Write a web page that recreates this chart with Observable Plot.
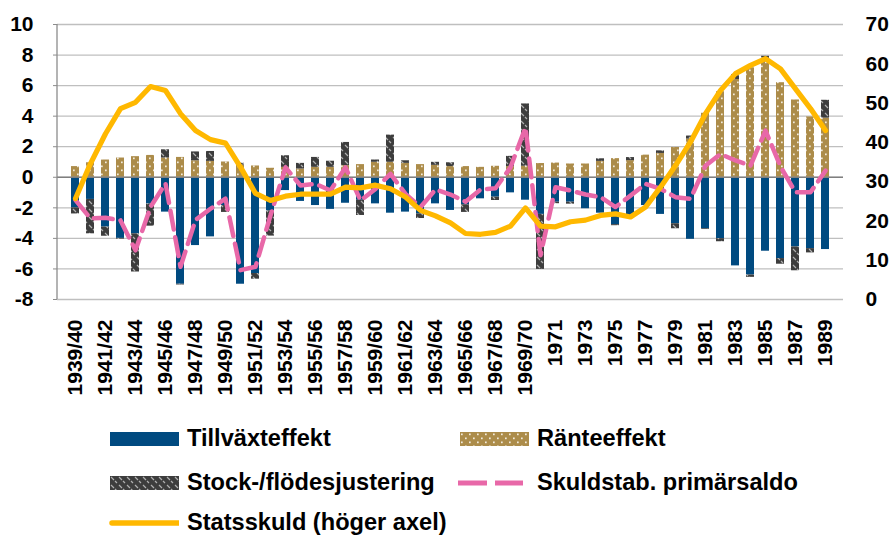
<!DOCTYPE html>
<html><head><meta charset="utf-8">
<script src="https://cdn.jsdelivr.net/npm/d3@7"></script>
<script src="https://cdn.jsdelivr.net/npm/@observablehq/plot@0.6"></script>
<style>
body{margin:0;background:#fff;}
#wrap{position:relative;width:893px;height:536px;overflow:hidden;font-family:"Liberation Sans",Arial,sans-serif;font-weight:bold;color:#000;}
.leg{position:absolute;display:flex;align-items:center;height:30px;font-size:23.6px;line-height:1;white-space:nowrap;}
.leg svg{margin-right:8px;flex:none;}
</style></head><body>
<svg width="0" height="0" style="position:absolute">
<defs>
<pattern id="dots" width="8" height="8" patternUnits="userSpaceOnUse">
<rect width="8" height="8" fill="#AC8C4A"/>
<rect x="1" y="1.5" width="1.7" height="1.7" fill="#F2EADB"/>
<rect x="5" y="5.5" width="1.7" height="1.7" fill="#F2EADB"/>
</pattern>
<pattern id="hatch" width="8" height="8" patternUnits="userSpaceOnUse">
<rect width="8" height="8" fill="#3D3D3D"/>
<path d="M1,1 L4,4 M5,5 L7,7" stroke="#B0B0B0" stroke-width="1.2"/>
</pattern>
</defs></svg>
<div id="wrap">
<div id="chart"></div>
<div class="leg" style="left:110px;top:424px"><svg width="69" height="14"><rect width="69" height="14" fill="#004A80"/></svg>Tillväxteffekt</div>
<div class="leg" style="left:460px;top:424px"><svg width="69" height="14"><rect width="69" height="14" fill="url(#dots)"/></svg>Ränteeffekt</div>
<div class="leg" style="left:110px;top:468px"><svg width="69" height="14"><rect width="69" height="14" fill="url(#hatch)"/></svg>Stock-/flödesjustering</div>
<div class="leg" style="left:458px;top:468px"><svg width="71" height="14"><line x1="0" x2="65" y1="7" y2="7" stroke="#E868A8" stroke-width="5" stroke-dasharray="29,8"/></svg>Skuldstab. primärsaldo</div>
<div class="leg" style="left:109px;top:508px"><svg width="70" height="14"><line x1="3" x2="69" y1="7" y2="7" stroke="#FFB800" stroke-width="5.5" stroke-linecap="round"/></svg>Statsskuld (höger axel)</div>
</div>
<script>
const years = ["1939/40","1940/41","1941/42","1942/43","1943/44","1944/45","1945/46","1946/47","1947/48","1948/49",
"1949/50","1950/51","1951/52","1952/53","1953/54","1954/55","1955/56","1956/57","1957/58","1958/59",
"1959/60","1960/61","1961/62","1962/63","1963/64","1964/65","1965/66","1966/67","1967/68","1968/69",
"1969/70","1970","1971","1972","1973","1974","1975","1976","1977","1978",
"1979","1980","1981","1982","1983","1984","1985","1986","1987","1988","1989"];
const shownLabels = ["1939/40","1941/42","1943/44","1945/46","1947/48","1949/50","1951/52","1953/54","1955/56","1957/58",
"1959/60","1961/62","1963/64","1965/66","1967/68","1969/70","1971","1973","1975","1977","1979","1981","1983","1985","1987","1989"];
const series = ["Tillväxteffekt","Ränteeffekt","Stock-/flödesjustering"];
const tillvaxt = [-2.0,-1.45,-3.26,-4.0,-3.7,-1.75,-2.28,-7.0,-4.47,-3.9,
-1.85,-7.0,-6.3,-2.2,-0.87,-1.58,-1.85,-2.1,-1.7,-1.5,
-1.74,-2.35,-2.28,-2.4,-1.74,-2.17,-1.8,-1.41,-1.3,-1.02,
-1.5,-2.43,-1.63,-1.63,-2.06,-2.35,-3.1,-2.5,-1.85,-2.43,
-3.04,-4.06,-3.37,-4.02,-5.8,-6.4,-4.84,-5.32,-4.56,-4.67,-4.73];
const ranta = [0.7,0.95,1.13,1.26,1.35,1.43,1.26,1.3,1.08,1.04,
1.0,0.8,0.74,0.59,0.65,0.54,0.65,0.65,0.76,0.83,
0.98,0.98,0.91,0.83,0.78,0.7,0.7,0.65,0.72,0.7,
0.72,0.9,0.93,0.87,0.87,1.04,1.22,1.09,1.45,1.56,
1.95,2.5,4.19,5.6,6.4,7.17,7.77,6.19,5.06,3.95,3.87];
const stock = [-0.4,-2.25,-0.6,-0.05,-2.5,-1.45,0.54,-0.05,0.58,0.65,
-0.45,0.12,-0.37,-1.65,0.76,0.37,0.65,0.4,1.52,-1.0,
0.15,1.78,0.17,-0.3,0.2,0.25,-0.5,0,-0.22,0.67,
4.08,-3.6,-0.1,-0.13,0,0.17,-0.07,0.2,0,0.17,
-0.33,0.2,-0.05,-0.2,0.33,-0.15,0.15,-0.37,-1.56,-0.28,1.17];
const primar = [-1.5,-2.7,-2.65,-2.82,-4.78,-1.95,-0.4,-5.86,-2.8,-2.06,
-1.4,-6.08,-5.86,-2.5,0.65,-0.54,-0.43,-0.87,0.65,-1.52,
-0.76,0.22,-1.09,-1.95,-0.8,-1.13,-1.6,-0.8,-0.72,0.65,
3.26,-5.1,-0.65,-0.87,-1.13,-1.3,-1.95,-1.2,-0.43,-0.76,
-1.3,-1.41,0.76,1.52,1.1,0.76,3.06,0.7,-0.98,-0.98,0.43];
const statsskuld = [25.7,34.6,42.2,48.6,50.2,54.2,53.2,47.3,43.0,40.7,
39.8,33.7,27.0,25.2,26.3,26.8,26.8,26.8,28.6,28.4,
29.1,28.2,26.1,22.7,21.3,19.5,16.8,16.6,17.1,18.7,
23.3,18.7,18.5,19.8,20.2,21.4,21.8,21.0,23.5,28.6,
34.1,40.1,47.3,53.2,57.5,59.6,61.3,58.7,53.6,48.6,43.0];
const leftTicks = [-8,-6,-4,-2,0,2,4,6,8,10];
const rightTicks = [0,10,20,30,40,50,60,70];

const toLeft = v => -8 + v * 18 / 70;
const fromLeft = d => Math.round((d + 8) * 70 / 18);

const bars = [];
years.forEach((yr, i) => {
  bars.push({year: yr, serie: series[0], v: tillvaxt[i]});
  bars.push({year: yr, serie: series[1], v: ranta[i]});
  bars.push({year: yr, serie: series[2], v: stock[i]});
});
const lines = years.map((yr, i) => ({year: yr, prim: primar[i], debt: statsskuld[i]}));

const leftLine = (index, scales, values, dims) => {
  const l = document.createElementNS("http://www.w3.org/2000/svg", "line");
  l.setAttribute("x1", dims.marginLeft); l.setAttribute("x2", dims.marginLeft);
  l.setAttribute("y1", dims.marginTop); l.setAttribute("y2", dims.height - dims.marginBottom);
  l.setAttribute("stroke", "#8C8C8C"); l.setAttribute("stroke-width", "1.3");
  return l;
};

const chart = Plot.plot({
  width: 893, height: 416,
  marginLeft: 57, marginRight: 50, marginTop: 24, marginBottom: 117,
  style: {fontFamily: '"Liberation Sans", Arial, sans-serif', fontSize: "21px", fontWeight: "bold", color: "#000", background: "#fff", overflow: "visible"},
  x: {domain: years, padding: 0.44, label: null},
  y: {domain: [-8, 10], label: null},
  color: {type: "ordinal", domain: series, range: ["#004A80", "url(#dots)", "url(#hatch)"]},
  marks: [
    Plot.gridY({ticks: leftTicks, stroke: "#BFBFBF", strokeOpacity: 1, strokeWidth: 1.3}),
    Plot.barY(bars, Plot.stackY({x: "year", y: "v", fill: "serie"})),
    Plot.ruleY([0], {stroke: "#7F7F7F", strokeWidth: 1.5}),
    leftLine,
    Plot.axisY({ticks: leftTicks, tickSize: 4, tickPadding: 20, stroke: "#8C8C8C", tickFormat: d => String(d), label: null}),
    Plot.axisY({anchor: "right", ticks: rightTicks.map(toLeft), tickFormat: d => String(fromLeft(d)), tickSize: 0, tickPadding: 22, label: null}),
    Plot.axisX({ticks: shownLabels, tickRotate: -90, tickSize: 0, tickPadding: 20, label: null}),
    Plot.line(lines, {x: "year", y: "prim", stroke: "#E868A8", strokeWidth: 4.5, strokeDasharray: "19,8"}),
    Plot.line(lines, {x: "year", y: d => toLeft(d.debt), stroke: "#FFB800", strokeWidth: 5.2, strokeLinejoin: "round"})
  ]
});
document.getElementById("chart").appendChild(chart);
</script>
</body></html>
